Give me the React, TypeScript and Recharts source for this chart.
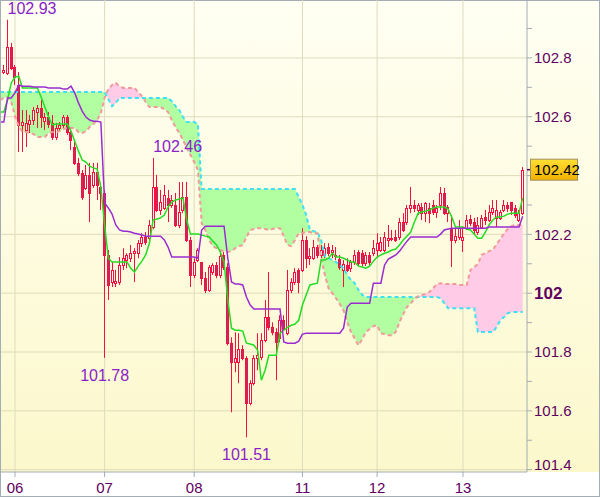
import React from 'react';
import { ComposedChart, XAxis, YAxis, CartesianGrid, Bar, Line, Area, Scatter } from 'recharts';

const FONT = '"Liberation Sans", Arial, sans-serif';
const RED = '#f5103f';

const xTickIdx = [3, 27, 51, 80, 100, 123];
const xTickLabels = ['06', '07', '08', '11', '12', '13'];
const yTicks = [101.4, 101.5, 101.6, 101.7, 101.8, 101.9, 102.0, 102.1, 102.2, 102.3, 102.4, 102.5, 102.6, 102.7, 102.8, 102.9, 102.42];
const yGrid = [101.4, 101.6, 101.8, 102.0, 102.2, 102.4, 102.6, 102.8];
const lastPrice = 102.42;

const opens = [
  102.752, 102.749, 102.837, 102.769, 102.708, 102.572, 102.555, 102.575, 102.589, 102.616,
  102.630, 102.585, 102.599, 102.579, 102.531, 102.562, 102.572, 102.599, 102.548, 102.497,
  102.443, 102.409, 102.358, 102.402, 102.368, 102.412, 102.361, 102.341, 102.130, 102.038,
  102.034, 102.038, 102.096, 102.113, 102.119, 102.136, 102.136, 102.170, 102.191, 102.187,
  102.225, 102.361, 102.283, 102.290, 102.324, 102.300, 102.300, 102.232, 102.283, 102.327,
  102.181, 102.062, 102.113, 102.106, 102.051, 102.011, 102.072, 102.096, 102.062, 102.130,
  102.089, 101.830, 101.766, 101.766, 101.809, 101.779, 101.626, 101.694, 101.779, 101.782,
  101.840, 101.918, 101.884, 101.867, 101.847, 101.908, 101.864, 102.011, 102.038, 102.079,
  102.079, 102.181, 102.119, 102.119, 102.157, 102.130, 102.130, 102.157, 102.140, 102.126,
  102.116, 102.079, 102.096, 102.085, 102.106, 102.140, 102.136, 102.102, 102.130, 102.136,
  102.147, 102.147, 102.147, 102.181, 102.184, 102.191, 102.191, 102.242, 102.242, 102.290,
  102.300, 102.283, 102.293, 102.272, 102.290, 102.300, 102.276, 102.300, 102.341, 102.272,
  102.221, 102.181, 102.191, 102.181, 102.221, 102.252, 102.242, 102.208, 102.225, 102.259,
  102.249, 102.276, 102.256, 102.256, 102.283, 102.300, 102.310, 102.290, 102.249, 102.272,
];
const highs = [
  102.776, 102.930, 102.851, 102.776, 102.752, 102.623, 102.623, 102.606, 102.633, 102.640,
  102.657, 102.613, 102.616, 102.606, 102.579, 102.582, 102.606, 102.606, 102.565, 102.521,
  102.460, 102.419, 102.436, 102.443, 102.443, 102.443, 102.375, 102.351, 102.147, 102.106,
  102.079, 102.123, 102.153, 102.136, 102.164, 102.153, 102.181, 102.204, 102.208, 102.249,
  102.460, 102.402, 102.351, 102.368, 102.351, 102.334, 102.341, 102.378, 102.378, 102.378,
  102.191, 102.119, 102.153, 102.106, 102.072, 102.096, 102.102, 102.106, 102.147, 102.140,
  102.102, 101.850, 101.867, 101.864, 101.823, 101.786, 101.704, 101.789, 101.864, 101.864,
  101.977, 102.072, 101.901, 101.881, 101.925, 101.925, 102.079, 102.051, 102.085, 102.085,
  102.221, 102.194, 102.153, 102.181, 102.164, 102.164, 102.170, 102.170, 102.164, 102.157,
  102.130, 102.113, 102.119, 102.113, 102.147, 102.147, 102.147, 102.140, 102.140, 102.181,
  102.204, 102.191, 102.208, 102.232, 102.215, 102.215, 102.256, 102.272, 102.300, 102.361,
  102.317, 102.307, 102.307, 102.310, 102.307, 102.317, 102.300, 102.361, 102.358, 102.300,
  102.266, 102.221, 102.249, 102.225, 102.266, 102.266, 102.256, 102.259, 102.266, 102.283,
  102.300, 102.317, 102.317, 102.283, 102.317, 102.310, 102.310, 102.300, 102.283, 102.429,
];
const lows = [
  102.745, 102.742, 102.759, 102.708, 102.480, 102.480, 102.497, 102.545, 102.572, 102.562,
  102.562, 102.555, 102.562, 102.521, 102.521, 102.551, 102.562, 102.538, 102.487, 102.436,
  102.398, 102.317, 102.351, 102.242, 102.358, 102.317, 102.283, 101.780, 101.977, 102.021,
  102.021, 102.028, 102.079, 102.085, 102.106, 102.038, 102.119, 102.157, 102.164, 102.181,
  102.218, 102.276, 102.266, 102.283, 102.242, 102.290, 102.225, 102.221, 102.272, 102.174,
  102.021, 102.051, 102.106, 102.028, 102.000, 102.004, 102.062, 102.051, 102.051, 102.079,
  101.823, 101.595, 101.731, 101.694, 101.772, 101.510, 101.619, 101.687, 101.738, 101.772,
  101.833, 101.874, 101.857, 101.704, 101.833, 101.874, 101.857, 102.000, 102.028, 102.000,
  102.072, 102.085, 102.096, 102.113, 102.119, 102.119, 102.119, 102.126, 102.119, 102.113,
  102.079, 102.021, 102.072, 102.072, 102.096, 102.092, 102.092, 102.092, 102.096, 102.126,
  102.119, 102.140, 102.140, 102.157, 102.177, 102.174, 102.181, 102.208, 102.232, 102.272,
  102.276, 102.266, 102.249, 102.242, 102.238, 102.266, 102.256, 102.283, 102.266, 102.242,
  102.089, 102.170, 102.181, 102.140, 102.215, 102.228, 102.198, 102.198, 102.218, 102.232,
  102.242, 102.266, 102.225, 102.249, 102.276, 102.276, 102.266, 102.256, 102.242, 102.266,
];
const closes = [
  102.759, 102.837, 102.766, 102.735, 102.572, 102.582, 102.579, 102.589, 102.623, 102.630,
  102.599, 102.599, 102.575, 102.531, 102.562, 102.572, 102.599, 102.548, 102.521, 102.443,
  102.409, 102.327, 102.402, 102.341, 102.412, 102.368, 102.341, 102.130, 102.028, 102.079,
  102.041, 102.096, 102.119, 102.130, 102.136, 102.143, 102.170, 102.191, 102.174, 102.232,
  102.361, 102.283, 102.310, 102.334, 102.300, 102.317, 102.232, 102.276, 102.327, 102.181,
  102.062, 102.106, 102.147, 102.051, 102.011, 102.089, 102.096, 102.062, 102.126, 102.089,
  101.830, 101.766, 101.779, 101.809, 101.779, 101.626, 101.694, 101.779, 101.789, 101.840,
  101.918, 101.884, 101.867, 101.833, 101.908, 101.881, 102.011, 102.038, 102.072, 102.038,
  102.181, 102.119, 102.126, 102.157, 102.130, 102.147, 102.153, 102.136, 102.147, 102.130,
  102.089, 102.099, 102.079, 102.106, 102.130, 102.102, 102.102, 102.130, 102.106, 102.153,
  102.170, 102.174, 102.191, 102.187, 102.187, 102.181, 102.242, 102.215, 102.290, 102.300,
  102.290, 102.300, 102.272, 102.307, 102.272, 102.276, 102.290, 102.341, 102.272, 102.293,
  102.181, 102.194, 102.221, 102.191, 102.249, 102.238, 102.215, 102.232, 102.256, 102.249,
  102.276, 102.290, 102.283, 102.276, 102.300, 102.290, 102.283, 102.266, 102.272, 102.420,
];

// indicator series start one period before the first candle
const lineStart = -1;
const tenkan = [
  102.616, 102.616, 102.657, 102.715, 102.735, 102.738, 102.698, 102.698, 102.698, 102.698,
  102.698, 102.667, 102.633, 102.599, 102.572, 102.575, 102.575, 102.575, 102.575, 102.551,
  102.517, 102.483, 102.453, 102.446, 102.432, 102.426, 102.422, 102.361, 102.232, 102.119,
  102.106, 102.106, 102.106, 102.106, 102.106, 102.085, 102.072, 102.092, 102.109, 102.130,
  102.170, 102.249, 102.252, 102.256, 102.266, 102.293, 102.310, 102.317, 102.320, 102.324,
  102.249, 102.201, 102.201, 102.201, 102.198, 102.194, 102.191, 102.177, 102.164, 102.140,
  102.106, 101.977, 101.881, 101.874, 101.874, 101.871, 101.830, 101.827, 101.823, 101.806,
  101.704, 101.738, 101.789, 101.789, 101.789, 101.864, 101.874, 101.884, 101.891, 101.895,
  101.908, 101.960, 101.994, 102.028, 102.031, 102.034, 102.113, 102.113, 102.119, 102.136,
  102.123, 102.123, 102.119, 102.113, 102.106, 102.106, 102.092, 102.089, 102.085, 102.092,
  102.109, 102.123, 102.130, 102.136, 102.140, 102.147, 102.150, 102.164, 102.181, 102.194,
  102.208, 102.242, 102.272, 102.276, 102.279, 102.283, 102.290, 102.293, 102.293, 102.293,
  102.286, 102.259, 102.225, 102.225, 102.225, 102.218, 102.215, 102.201, 102.187, 102.187,
  102.208, 102.232, 102.249, 102.259, 102.259, 102.262, 102.269, 102.272, 102.272, 102.272,
  102.324,
];
const kijun = [
  102.582, 102.582, 102.664, 102.664, 102.681, 102.708, 102.704, 102.704, 102.704, 102.701,
  102.701, 102.701, 102.701, 102.698, 102.698, 102.698, 102.698, 102.694, 102.694, 102.704,
  102.681, 102.647, 102.619, 102.599, 102.589, 102.585, 102.585, 102.582, 102.307, 102.290,
  102.269, 102.232, 102.215, 102.211, 102.211, 102.208, 102.204, 102.201, 102.198, 102.194,
  102.194, 102.194, 102.194, 102.194, 102.181, 102.157, 102.123, 102.123, 102.123, 102.123,
  102.123, 102.123, 102.123, 102.119, 102.215, 102.228, 102.228, 102.228, 102.228, 102.228,
  102.228, 102.119, 102.038, 102.031, 102.031, 102.028, 101.987, 101.960, 101.946, 101.946,
  101.946, 101.946, 101.946, 101.946, 101.946, 101.946, 101.834, 101.830, 101.830, 101.830,
  101.837, 101.861, 101.864, 101.864, 101.864, 101.864, 101.864, 101.864, 101.864, 101.864,
  101.864, 101.864, 101.881, 101.953, 101.966, 101.966, 101.966, 101.966, 101.966, 101.966,
  102.034, 102.034, 102.034, 102.096, 102.116, 102.123, 102.130, 102.143, 102.160, 102.177,
  102.191, 102.191, 102.191, 102.191, 102.191, 102.191, 102.191, 102.191, 102.201, 102.215,
  102.218, 102.221, 102.221, 102.221, 102.221, 102.221, 102.221, 102.221, 102.221, 102.221,
  102.221, 102.225, 102.225, 102.225, 102.225, 102.225, 102.225, 102.225, 102.225, 102.225,
  102.262,
];
const senkouA = [
  102.684, 102.684, 102.684, 102.684, 102.684, 102.684, 102.684, 102.684, 102.684, 102.684,
  102.684, 102.684, 102.684, 102.684, 102.684, 102.684, 102.684, 102.684, 102.684, 102.684,
  102.684, 102.684, 102.684, 102.684, 102.684, 102.684, 102.684, 102.684, 102.684, 102.660,
  102.636, 102.647, 102.664, 102.664, 102.664, 102.664, 102.664, 102.664, 102.664, 102.664,
  102.664, 102.664, 102.664, 102.664, 102.664, 102.664, 102.653, 102.636, 102.623, 102.599,
  102.582, 102.582, 102.582, 102.575, 102.354, 102.354, 102.354, 102.354, 102.354, 102.354,
  102.354, 102.354, 102.354, 102.354, 102.354, 102.354, 102.354, 102.354, 102.354, 102.354,
  102.354, 102.354, 102.354, 102.354, 102.354, 102.354, 102.354, 102.354, 102.354, 102.354,
  102.327, 102.300, 102.266, 102.215, 102.211, 102.208, 102.181, 102.126, 102.119, 102.113,
  102.106, 102.096, 102.085, 102.062, 102.045, 102.034, 102.011, 101.994, 101.987, 101.987,
  101.987, 101.987, 101.987, 101.987, 101.987, 101.987, 101.987, 101.987, 101.987, 101.987,
  101.987, 101.987, 101.987, 101.987, 101.987, 101.987, 101.987, 101.987, 101.983, 101.966,
  101.949, 101.949, 101.949, 101.949, 101.949, 101.949, 101.949, 101.949, 101.868, 101.868,
  101.868, 101.868, 101.868, 101.885, 101.908, 101.919, 101.932, 101.936, 101.936, 101.936,
  101.936,
];
const senkouB = [
  102.657, 102.664, 102.667, 102.650, 102.602, 102.568, 102.548, 102.548, 102.545, 102.541,
  102.531, 102.531, 102.531, 102.545, 102.548, 102.548, 102.551, 102.558, 102.562, 102.562,
  102.562, 102.548, 102.545, 102.551, 102.565, 102.575, 102.589, 102.613, 102.664, 102.694,
  102.708, 102.715, 102.704, 102.698, 102.698, 102.698, 102.698, 102.684, 102.670, 102.650,
  102.633, 102.633, 102.633, 102.633, 102.626, 102.616, 102.589, 102.565, 102.545, 102.521,
  102.494, 102.470, 102.446, 102.419, 102.238, 102.215, 102.181, 102.160, 102.153, 102.147,
  102.143, 102.140, 102.143, 102.153, 102.160, 102.164, 102.191, 102.215, 102.218, 102.221,
  102.221, 102.218, 102.215, 102.218, 102.221, 102.221, 102.194, 102.164, 102.160, 102.181,
  102.204, 102.204, 102.208, 102.208, 102.204, 102.204, 102.119, 102.062, 102.017, 102.000,
  101.983, 101.963, 101.942, 101.902, 101.868, 101.847, 101.823, 101.844, 101.868, 101.878,
  101.888, 101.891, 101.864, 101.861, 101.857, 101.857, 101.868, 101.902, 101.929, 101.953,
  101.966, 101.980, 101.990, 101.994, 101.997, 102.004, 102.017, 102.031, 102.034, 102.031,
  102.031, 102.031, 102.031, 102.028, 102.028, 102.028, 102.079, 102.089, 102.099, 102.130,
  102.136, 102.143, 102.147, 102.167, 102.184, 102.204, 102.218, 102.228, 102.232, 102.232,
  102.232,
];

const extremeIdx = [1, 40, 27, 65];
const extremeVal = [102.93, 102.46, 101.78, 101.51];
const extremeKind = ['high', 'high', 'low', 'low'];

const candleData = opens.map((o, k) => ({ i: k, o, h: highs[k], l: lows[k], c: closes[k] }));
const toLine = (arr: number[]) => arr.map((v, k) => ({ i: k + lineStart, v }));
const extremes = extremeIdx.map((i, k) => ({ i, v: extremeVal[k], kind: extremeKind[k] }));

function buildCloud() {
  const green: any[] = [];
  const pink: any[] = [];
  for (let k = 0; k < senkouA.length; k++) {
    const i = k + lineStart;
    const a = senkouA[k];
    const b = senkouB[k];
    green.push({ i, r: a >= b ? [b, a] : null });
    pink.push({ i, r: b >= a ? [a, b] : null });
    if (k + 1 < senkouA.length) {
      const d0 = a - b;
      const d1 = senkouA[k + 1] - senkouB[k + 1];
      if (d0 * d1 < 0) {
        const t = d0 / (d0 - d1);
        const v = a + t * (senkouA[k + 1] - a);
        green.push({ i: i + t, r: [v, v] });
        pink.push({ i: i + t, r: [v, v] });
      }
    }
  }
  return { green, pink };
}
const cloud = buildCloud();

const Candle = (props: any) => {
  const { x, y, width, height, payload } = props;
  if (!payload || x == null) return null;
  const { o, h, l, c } = payload;
  const top = Math.min(y, y + height);
  const bot = Math.max(y, y + height);
  const span = h - l || 1;
  const py = (p: number) => top + ((h - p) / span) * (bot - top);
  const cx = Math.floor(x + width / 2) + 0.5;
  const yo = py(o);
  const yc = py(c);
  const up = c >= o;
  const bt = Math.round(Math.min(yo, yc)) + 0.5;
  const bb = Math.round(Math.max(yo, yc)) + 0.5;
  const bh = Math.max(bb - bt, 1);
  return (
    <g>
      <line x1={cx} x2={cx} y1={top} y2={bot} stroke={RED} strokeWidth={1} />
      <rect x={cx - 1} y={bt} width={2} height={bh} fill={up ? '#fffef6' : '#b4306a'} stroke={RED} strokeWidth={1} />
    </g>
  );
};

const YTick = (props: any) => {
  const { x, y, payload } = props;
  const v = Math.round(payload.value * 100) / 100;
  if (Math.abs(v - lastPrice) < 1e-9) {
    return (
      <g>
        <defs>
          <linearGradient id="tagGrad" x1="0" y1="0" x2="0" y2="1">
            <stop offset="0" stopColor="#ffe033" />
            <stop offset="1" stopColor="#f2b000" />
          </linearGradient>
        </defs>
        <line x1={x - 7} x2={x - 3} y1={y} y2={y} stroke="#600060" strokeWidth={1.5} />
        <rect x={x - 3.5} y={y - 10.5} width={47} height={21} fill="url(#tagGrad)" stroke="#a09060" strokeWidth={1} />
        <text x={x} y={y} dy="0.36em" fontSize={15} fontFamily={FONT} fill="#000000">{v.toFixed(2)}</text>
      </g>
    );
  }
  const tenths = Math.round(v * 10);
  if (tenths % 2 !== 0) return null;
  // the 102.4 label sits under the last-price tag, so it is not visible
  if (Math.abs(v - lastPrice) < 0.05) return null;
  const isInt = tenths % 10 === 0;
  const shift = y > 460 ? -5 : 0;
  return (
    <text x={x} y={y + shift} dy="0.36em" fontSize={isInt ? 17 : 15} fontWeight={isInt ? 'bold' : 'normal'} fontFamily={FONT} fill="#600060">
      {isInt ? v.toFixed(0) : v.toFixed(1)}
    </text>
  );
};

const ExtremeLabel = (props: any) => {
  const { cx, cy, payload } = props;
  if (cx == null || cy == null) return null;
  const high = payload.kind === 'high';
  return (
    <text x={cx} y={high ? cy - 6 : cy + 23} textAnchor={high ? 'start' : 'middle'} fontSize={16} fontFamily={FONT} fill="#8a22c8">
      {payload.v.toFixed(2)}
    </text>
  );
};

export default function App() {
  return (
    <div
      style={{
        position: 'absolute',
        left: 0,
        top: 0,
        width: 600,
        height: 497,
        background: 'linear-gradient(to bottom, #fffff3 0px, #fcf8cc 472px, #ffffff 472px, #ffffff 497px)',
        boxShadow: 'inset 0 0 0 1px #a4acb4',
      }}
    >
      <style>{'body{margin:0}'}</style>
      <ComposedChart width={600} height={497} margin={{ top: 0, right: 0, bottom: 0, left: 1 }} data={candleData}>
        <CartesianGrid horizontalValues={yGrid} verticalValues={xTickIdx} stroke="#dedcbc" strokeWidth={1} />
        <XAxis
          dataKey="i"
          type="number"
          domain={[-0.75, 140.15]}
          allowDataOverflow
          ticks={xTickIdx}
          interval={0}
          tickFormatter={(v: number) => xTickLabels[xTickIdx.indexOf(v)] ?? ''}
          height={25}
          tickSize={5}
          tickMargin={5}
          axisLine={{ stroke: '#a4acb4' }}
          tickLine={{ stroke: '#a4acb4' }}
          tick={{ fill: '#600060', fontSize: 15, fontFamily: FONT }}
        />
        <YAxis
          orientation="right"
          type="number"
          domain={[101.392, 102.997]}
          allowDataOverflow
          ticks={yTicks}
          interval={0}
          width={73}
          tickSize={5}
          tickMargin={2}
          axisLine={{ stroke: '#a4acb4' }}
          tickLine={{ stroke: '#a4acb4' }}
          tick={<YTick />}
        />
        <Area data={cloud.green} dataKey="r" type="linear" stroke="none" fill="#b2ffa2" fillOpacity={1} isAnimationActive={false} connectNulls={false} />
        <Area data={cloud.pink} dataKey="r" type="linear" stroke="none" fill="#ffcbe6" fillOpacity={1} isAnimationActive={false} connectNulls={false} />
        <Line data={toLine(senkouA)} dataKey="v" type="linear" stroke="#3ee0f2" strokeWidth={2} strokeDasharray="4 3" dot={false} isAnimationActive={false} />
        <Line data={toLine(senkouB)} dataKey="v" type="linear" stroke="#f29a9a" strokeWidth={2} strokeDasharray="4 3" dot={false} isAnimationActive={false} />
        <Bar dataKey={(d: any) => [d.l, d.h]} shape={<Candle />} barSize={3} isAnimationActive={false} />
        <Line data={toLine(tenkan)} dataKey="v" type="linear" stroke="#22dd22" strokeWidth={1.5} dot={false} isAnimationActive={false} />
        <Line data={toLine(kijun)} dataKey="v" type="linear" stroke="#9a2cd0" strokeWidth={1.5} dot={false} isAnimationActive={false} />
        <Scatter data={extremes} dataKey="v" shape={<ExtremeLabel />} isAnimationActive={false} />
      </ComposedChart>
    </div>
  );
}
